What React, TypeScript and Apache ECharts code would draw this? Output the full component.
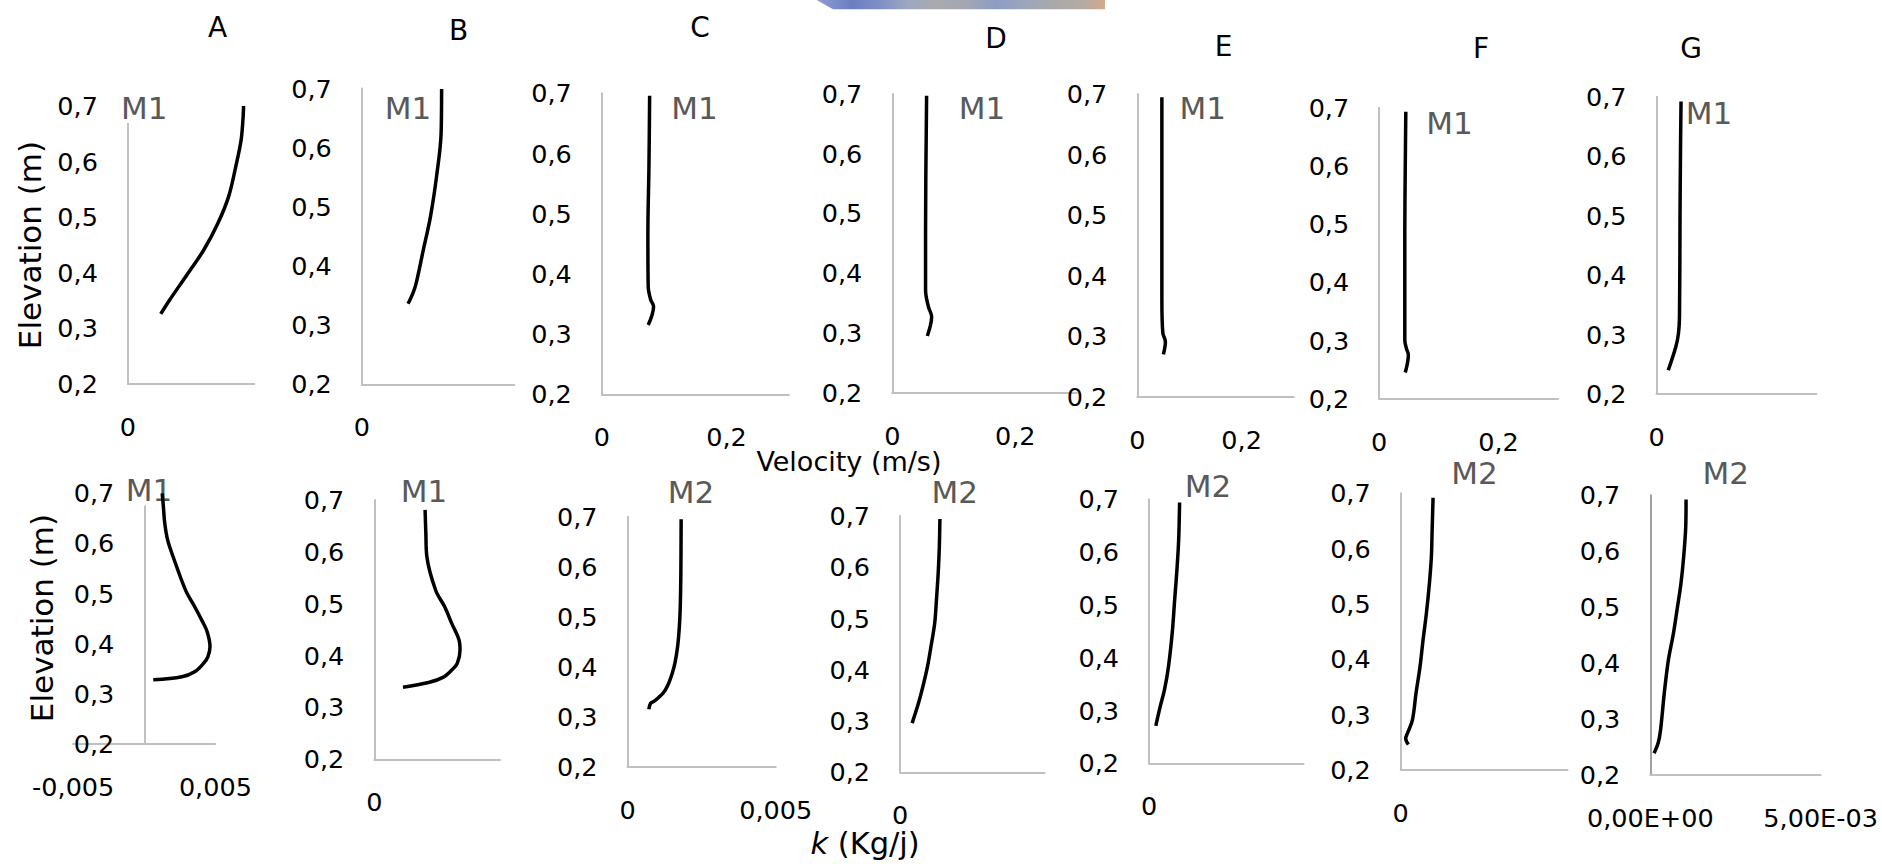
import React, { useEffect, useRef } from "react";
import * as echarts from "echarts";

const FONT = "'DejaVu Sans', Lato, 'Noto Sans', sans-serif";

// Velocity profiles, run M1: [velocity (m/s), elevation (m)]
const velA: [number, number][] = [
  [0.078, 0.326], [0.099, 0.351], [0.137, 0.393], [0.18, 0.441], [0.2136, 0.489],
  [0.239, 0.537], [0.256, 0.591], [0.2687, 0.639], [0.273, 0.675], [0.2746, 0.7],
];
const velB: [number, number][] = [
  [0.091, 0.336], [0.101, 0.355], [0.107, 0.371], [0.121, 0.427], [0.135, 0.483],
  [0.147, 0.551], [0.156, 0.624], [0.157, 0.699],
];
const velC: [number, number][] = [
  [0.0744, 0.315], [0.083, 0.346], [0.0784, 0.357], [0.0744, 0.379], [0.0739, 0.467],
  [0.0756, 0.578], [0.0767, 0.696],
];
const velD: [number, number][] = [
  [0.057, 0.295], [0.064, 0.327], [0.0587, 0.344], [0.0541, 0.372], [0.0541, 0.467],
  [0.0558, 0.697],
];
const velE: [number, number][] = [
  [0.05, 0.27], [0.0539, 0.291], [0.049, 0.305], [0.0471, 0.36], [0.0471, 0.525],
  [0.0471, 0.695],
];
const velF: [number, number][] = [
  [0.0437, 0.245], [0.0489, 0.275], [0.0454, 0.287], [0.0429, 0.301], [0.0429, 0.484],
  [0.0437, 0.599], [0.0446, 0.693],
];
const velG: [number, number][] = [
  [0.022, 0.24], [0.0364, 0.28], [0.0412, 0.302], [0.0431, 0.33], [0.0441, 0.498],
  [0.045, 0.61], [0.046, 0.692],
];

// Turbulent kinetic energy profiles: [k (Kg/j), elevation (m)]
const kA: [number, number][] = [
  [0.00063, 0.328], [0.00265, 0.334], [0.00354, 0.344], [0.00417, 0.361], [0.00447, 0.374],
  [0.00462, 0.394], [0.00442, 0.424], [0.00404, 0.447], [0.00354, 0.474], [0.0029, 0.507],
  [0.00202, 0.574], [0.00164, 0.607], [0.00144, 0.64], [0.00134, 0.674], [0.00126, 0.7],
];
const kB: [number, number][] = [
  [0.00114, 0.339], [0.00216, 0.348], [0.00273, 0.358], [0.00308, 0.372], [0.0033, 0.385],
  [0.00341, 0.411], [0.00337, 0.43], [0.00308, 0.462], [0.0028, 0.494], [0.00244, 0.526],
  [0.00209, 0.591], [0.00205, 0.636], [0.00202, 0.681],
];
const kC: [number, number][] = [
  [0.00072, 0.315], [0.00078, 0.327], [0.0009, 0.331], [0.0012, 0.347], [0.00136, 0.363],
  [0.00151, 0.387], [0.0016, 0.407], [0.00169, 0.44], [0.00175, 0.48], [0.00178, 0.52],
  [0.0018, 0.587], [0.00181, 0.695],
];
const kD: [number, number][] = [
  [0.00042, 0.296], [0.00064, 0.335], [0.00079, 0.367], [0.00095, 0.406], [0.00107, 0.445],
  [0.0012, 0.491], [0.00126, 0.536], [0.00132, 0.588], [0.00136, 0.64], [0.00138, 0.694],
];
const kE: [number, number][] = [
  [0.00022, 0.271], [0.00036, 0.307], [0.0005, 0.339], [0.00063, 0.383], [0.00075, 0.446],
  [0.00083, 0.509], [0.00091, 0.572], [0.00096, 0.623], [0.00099, 0.694],
];
const kF: [number, number][] = [
  [0.00023, 0.246], [0.00015, 0.257], [0.0002, 0.266], [0.00035, 0.29], [0.00046, 0.339],
  [0.00058, 0.387], [0.00067, 0.435], [0.00077, 0.483], [0.00086, 0.537], [0.00092, 0.586],
  [0.00094, 0.628], [0.00097, 0.692],
];
const kG: [number, number][] = [
  [0.00011, 0.239], [0.00023, 0.257], [0.0003, 0.28], [0.00041, 0.346], [0.00053, 0.405],
  [0.00068, 0.453], [0.0008, 0.501], [0.0009, 0.542], [0.00098, 0.59], [0.00104, 0.643],
  [0.00105, 0.692],
];

const panelNames = ["A", "B", "C", "D", "E", "F", "G"];
const topTags = ["M1", "M1", "M1", "M1", "M1", "M1", "M1"];
const bottomTags = ["M1", "M1", "M2", "M2", "M2", "M2", "M2"];

const elevationRange = [0.2, 0.7];
const elevationStep = 0.1;
const velocityRange = [0, 0.3];
const velocityStep = 0.2;
const kRangeSigned = [-0.005, 0.005];
const kRange = [0, 0.005];
const kStep = 0.005;

// tick values that carry a label on each horizontal axis
const velocityTickLabels = [[0], [0], [0, 0.2], [0, 0.2], [0, 0.2], [0, 0.2], [0]];
const kTickLabels = [[-0.005, 0.005], [0], [0, 0.005], [0], [0], [0], [0, 0.005]];

const velocitySeries = [velA, velB, velC, velD, velE, velF, velG];
const kSeries = [kA, kB, kC, kD, kE, kF, kG];

// plot boxes in pixels: [left, right, top, bottom]
const topBoxes = [
  [127.9, 254.3, 106, 384],
  [361.8, 514.3, 88.5, 384.3],
  [601.8, 788.9, 93.3, 394.3],
  [892.3, 1076.7, 94, 392.7],
  [1137.3, 1293.8, 94.3, 396.7],
  [1379.2, 1558.2, 107.7, 398.7],
  [1656.5, 1816.5, 96.7, 394],
];
const bottomBoxes = [
  [73.2, 215.4, 493.3, 744],
  [374.3, 500, 500, 759.3],
  [627.5, 775.7, 516.7, 766.7],
  [900, 1044.6, 516, 772.3],
  [1149, 1303.5, 499.3, 763.3],
  [1400.7, 1567.5, 493.3, 770],
  [1650.3, 1820.6, 495, 775],
];
const titlePos = [
  [217.5, 27.5], [458.6, 30], [700, 27], [996, 38], [1223.7, 46.7], [1481, 48.3], [1691.2, 48.3],
];
const topTagPos = [
  [144.3, 107.5], [408, 108], [694.5, 107.5], [982, 107.5], [1202.8, 108.3], [1449.6, 122.5], [1709, 112.5],
];
const bottomTagPos = [
  [149.1, 490], [424.1, 491], [690.9, 491.7], [954.8, 491.7], [1207.9, 486], [1474.4, 473], [1725.8, 473],
];

const TICK_SIZE = 25.5;
const near = (a: number, b: number) => Math.abs(a - b) < 1e-9;
const comma = (v: number) => String(+v.toPrecision(6)).replace(".", ",");
const sci = (v: number) => {
  const [m, e] = v.toExponential(2).split("e");
  const n = parseInt(e, 10);
  const sign = n < 0 ? "-" : "+";
  return m.replace(".", ",") + "E" + sign + String(Math.abs(n)).padStart(2, "0");
};

function buildOption() {
  const grid: any[] = [];
  const xAxis: any[] = [];
  const yAxis: any[] = [];
  const series: any[] = [];
  const graphic: any[] = [];

  const addPanel = (
    box: number[],
    range: number[],
    step: number,
    labels: number[],
    fmt: (v: number) => string,
    data: [number, number][],
    yLineColor: string,
    yLineWidth: number
  ) => {
    const i = grid.length;
    // the vertical axis sits at x = 0, which is inside the box when the range is signed
    const zeroShift = range[0] < 0 ? ((0 - range[0]) / (range[1] - range[0])) * (box[1] - box[0]) : 0;
    grid.push({
      left: box[0],
      top: box[2],
      width: box[1] - box[0],
      height: box[3] - box[2],
      containLabel: false,
      outerBoundsMode: "none",
    });
    xAxis.push({
      type: "value",
      gridIndex: i,
      min: range[0],
      max: range[1],
      interval: step,
      axisLine: { show: true, onZero: true, lineStyle: { color: "#c0c0c0", width: 2 } },
      axisTick: { show: false },
      splitLine: { show: false },
      axisLabel: {
        margin: 30,
        fontSize: TICK_SIZE,
        lineHeight: 26,
        color: "#000",
        fontFamily: FONT,
        showMinLabel: true,
        showMaxLabel: true,
        formatter: (v: number) => (labels.some((t) => near(t, v)) ? fmt(v) : ""),
      },
    });
    yAxis.push({
      type: "value",
      gridIndex: i,
      min: elevationRange[0],
      max: elevationRange[1],
      interval: elevationStep,
      axisLine: { show: true, onZero: true, lineStyle: { color: yLineColor, width: yLineWidth } },
      axisTick: { show: false },
      splitLine: { show: false },
      axisLabel: {
        margin: 30 - zeroShift,
        fontSize: TICK_SIZE,
        color: "#000",
        fontFamily: FONT,
        formatter: (v: number) => v.toFixed(1).replace(".", ","),
      },
    });
    series.push({
      type: "line",
      xAxisIndex: i,
      yAxisIndex: i,
      data,
      symbol: "none",
      showSymbol: false,
      smooth: 0.35,
      clip: false,
      silent: true,
      z: 3,
      lineStyle: { color: "#000", width: 3.5 },
    });
  };

  for (let i = 0; i < 7; i++) {
    addPanel(topBoxes[i], velocityRange, velocityStep, velocityTickLabels[i], (v) => (near(v, 0) ? "0" : comma(v)), velocitySeries[i], "#c0c0c0", 2);
  }
  for (let i = 0; i < 7; i++) {
    const range = i === 0 ? kRangeSigned : kRange;
    const fmt = i === 6 ? sci : (v: number) => (near(v, 0) ? "0" : comma(v));
    addPanel(bottomBoxes[i], range, kStep, kTickLabels[i], fmt, kSeries[i], i === 6 ? "#808080" : "#c0c0c0", i === 6 ? 1.5 : 2);
  }

  const label = (text: string, x: number, y: number, size: number, fill: string, extra: any = {}) => ({
    type: "text",
    x,
    y,
    z: 1,
    silent: true,
    ...extra,
    style: {
      text,
      fill,
      fontSize: size,
      fontFamily: FONT,
      align: "center",
      verticalAlign: "middle",
      ...(extra.style || {}),
    },
  });

  panelNames.forEach((n, i) => graphic.push(label(n, titlePos[i][0], titlePos[i][1], 28, "#000")));
  topTags.forEach((t, i) =>
    graphic.push(label(t, topTagPos[i][0], topTagPos[i][1], 31, "#595959", { style: { backgroundColor: "#fff" } }))
  );
  bottomTags.forEach((t, i) =>
    graphic.push(label(t, bottomTagPos[i][0], bottomTagPos[i][1], 31, "#595959", { style: { backgroundColor: "#fff" } }))
  );

  graphic.push(label("Elevation (m)", 30.3, 245, 31, "#000", { rotation: Math.PI / 2 }));
  graphic.push(label("Elevation (m)", 42, 618, 31, "#000", { rotation: Math.PI / 2 }));
  graphic.push(label("Velocity (m/s)", 848.9, 461.7, 27, "#000"));
  graphic.push(
    label("{it|k} (Kg/j)", 865, 843, 30.5, "#000", {
      style: { rich: { it: { fontStyle: "italic", fontSize: 30.5, fontFamily: FONT, fill: "#000" } } },
    })
  );

  // decorative striped band at the top edge
  graphic.push({
    type: "polygon",
    silent: true,
    z: 0,
    shape: { points: [[816.7, 0], [1105, 0], [1105, 9.3], [833, 9.3]] },
    style: {
      fill: new echarts.graphic.LinearGradient(0, 0, 1, 0, [
        { offset: 0, color: "#8e9dd0" },
        { offset: 0.12, color: "#6b7ec1" },
        { offset: 0.22, color: "#7f90c6" },
        { offset: 0.32, color: "#9ea8c0" },
        { offset: 0.42, color: "#aaaaad" },
        { offset: 0.52, color: "#a3a6b4" },
        { offset: 0.62, color: "#8c9cc4" },
        { offset: 0.72, color: "#9ba6bd" },
        { offset: 0.82, color: "#a9a9aa" },
        { offset: 0.93, color: "#b5aba2" },
        { offset: 1, color: "#d5a98a" },
      ]),
    },
  });

  return {
    animation: false,
    backgroundColor: "#fff",
    grid,
    xAxis,
    yAxis,
    series,
    graphic,
  };
}

export default function App() {
  const ref = useRef<HTMLDivElement>(null);
  useEffect(() => {
    if (!ref.current) return;
    const chart = echarts.init(ref.current, undefined, { renderer: "svg" });
    chart.setOption(buildOption() as any);
    return () => chart.dispose();
  }, []);
  return (
    <div
      ref={ref}
      style={{ position: "absolute", left: 0, top: 0, width: 1882, height: 864, background: "#fff" }}
    />
  );
}
